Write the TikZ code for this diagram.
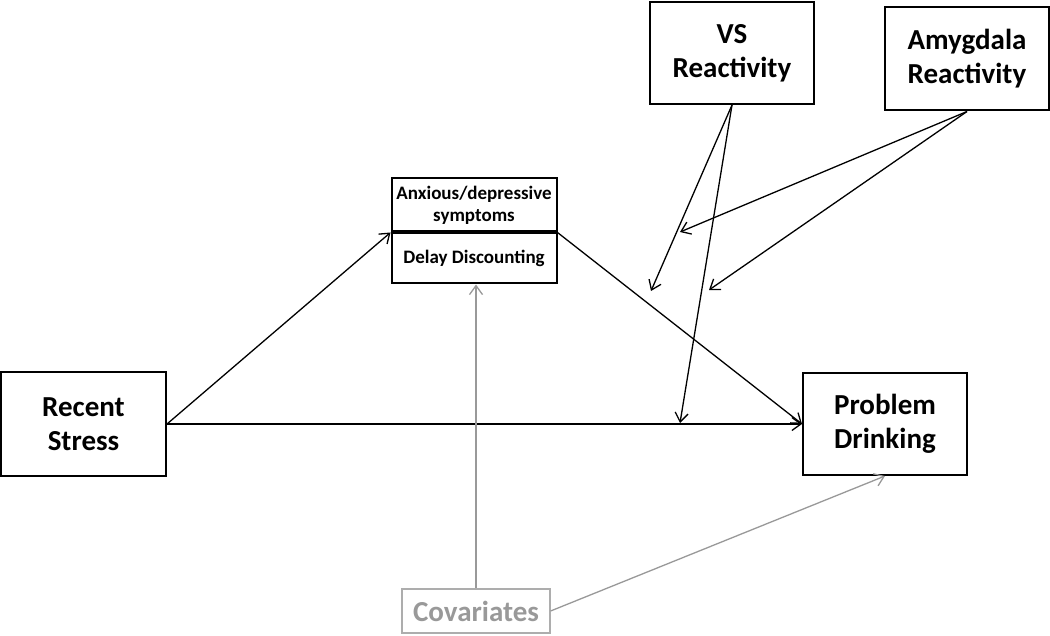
\documentclass[tikz,border=0pt]{standalone}
\usepackage{fontspec}
\setmainfont{Carlito}
\usetikzlibrary{arrows.meta}
\definecolor{covgray}{HTML}{999999}
\tikzset{
  bigbox/.style={draw=black, line width=2pt, inner sep=0pt, align=center,
    font=\bfseries\fontsize{29}{34}\selectfont},
  medbox/.style={draw=black, line width=2pt, inner sep=0pt, align=center,
    font=\bfseries\fontsize{19}{22}\selectfont},
  covbox/.style={draw=covgray!80, line width=1.2pt, inner sep=0pt, align=center,
    text=covgray, font=\bfseries\fontsize{29}{34}\selectfont},
  arr/.style={line width=1.3pt, -{Straight Barb[length=9pt,width=13pt,line width=1.3pt]}},
  grayarr/.style={arr, draw=covgray},
}
\begin{document}
\begin{tikzpicture}[x=1pt,y=-1pt]
\useasboundingbox (0,0) rectangle (1050,636);
\fill[white] (0,0) rectangle (1050,636);
\node[bigbox, minimum width=165pt, minimum height=103pt] (rs) at (83.5,424) {Recent\\Stress};
\node[bigbox, minimum width=164pt, minimum height=102pt] (pd) at (885,424) {Problem\\Drinking};
\node[bigbox, minimum width=164pt, minimum height=102pt] (vs) at (732,53) {VS\\Reactivity};
\node[bigbox, minimum width=164pt, minimum height=103pt] (am) at (967,59) {Amygdala\\Reactivity};
\node[medbox, minimum width=165pt, minimum height=53pt] (m1) at (474,205) {Anxious/depressive\\symptoms};
\node[medbox, minimum width=165pt, minimum height=50pt, anchor=north] (m2) at (m1.south) {Delay Discounting};
\node[covbox, minimum width=148pt, minimum height=44pt] (cov) at (476,611) {Covariates};
\coordinate (t1) at (651,291);
\coordinate (t2) at (680,423);
\coordinate (t3) at (680,232);
\coordinate (t4) at (709,290);
\draw[arr] (rs.east) -- (m2.north west);
\draw[arr] (rs.east) -- (pd.west);
\draw[arr] (m2.north east) -- (pd.west);
\draw[arr] (vs.south) -- (t1);
\draw[arr] (vs.south) -- (t2);
\draw[arr] (am.south) -- (t3);
\draw[arr] (am.south) -- (t4);
\draw[grayarr] (cov.north) -- (cov.north |- m2.south);
\draw[grayarr] (cov.east) -- (pd.south);
\end{tikzpicture}
\end{document}
